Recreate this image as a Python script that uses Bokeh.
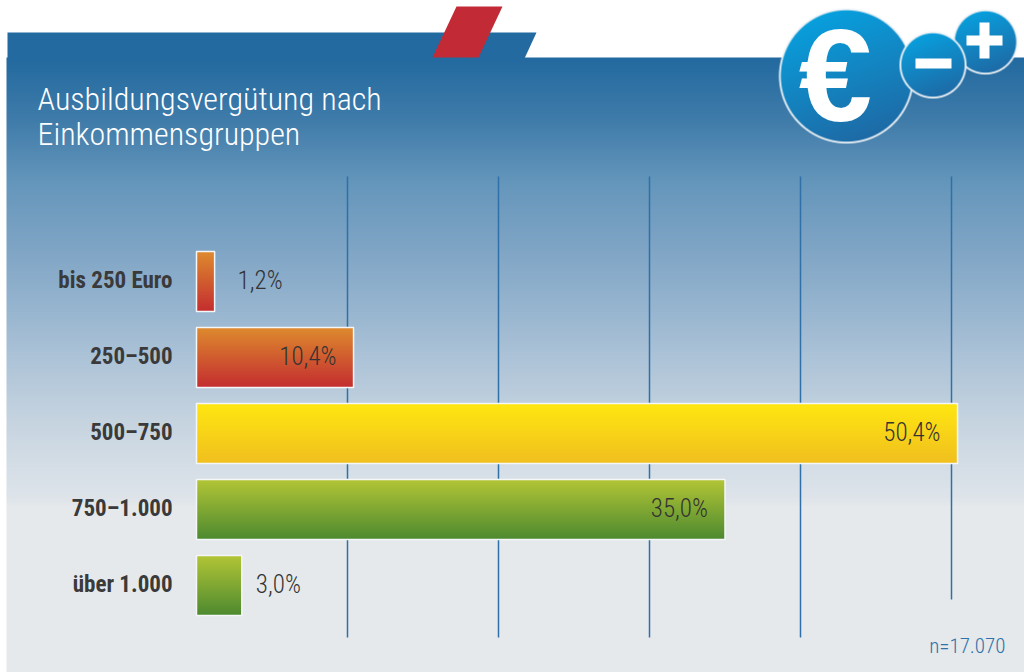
import numpy as np
from bokeh.plotting import figure
from bokeh.models import Range1d, ColumnDataSource
from bokeh.core.properties import value
from bokeh.embed import file_html
from bokeh.resources import INLINE

categories = ["bis 250 Euro", "250–500", "500–750", "750–1.000", "über 1.000"]
shares = [1.2, 10.4, 50.4, 35.0, 3.0]
share_labels = ["1,2%", "10,4%", "50,4%", "35,0%", "3,0%"]
grid_values = [10, 20, 30, 40, 50]
grid_ends = [637, 637, 637, 637, 599]
title_lines = ["Ausbildungsvergütung nach", "Einkommensgruppen"]
note = "n=17.070"

bar_top = [(222, 138, 46), (222, 138, 46), (255, 231, 17), (178, 198, 54), (178, 198, 54)]
bar_bottom = [(196, 46, 48), (196, 46, 48), (241, 192, 31), (78, 138, 48), (78, 138, 48)]
label_align = ["left", "right", "right", "right", "left"]
label_offset = [23, -17, -17, -17, 14]

W, H = 1024, 672
PX0, PY0 = 0, 0
PX_PER_PCT = 15.1
X0_PAGE = 196
ROW = 76
ROW0_PAGE = 281
FONT = "Roboto Condensed"
FONT_LIGHT = "Roboto Condensed Light"

x_start = (PX0 - X0_PAGE) / PX_PER_PCT
x_end = (PX0 + W - X0_PAGE) / PX_PER_PCT
y_top = (PY0 - ROW0_PAGE) / ROW
y_bot = (PY0 + H - ROW0_PAGE) / ROW

p = figure(width=W, height=H, output_backend="svg", toolbar_location=None,
           x_range=Range1d(x_start, x_end), y_range=Range1d(y_bot, y_top),
           min_border=0, outline_line_color=None, background_fill_color="white",
           border_fill_color="white")
p.axis.visible = False
p.grid.visible = False
p.extra_x_ranges["px"] = Range1d(PX0, PX0 + W)
p.extra_y_ranges["px"] = Range1d(PY0 + H, PY0)
PX = dict(x_range_name="px", y_range_name="px")


def rgba(rgb, a):
    return (a.astype(np.uint32) << 24) | (rgb[..., 2].astype(np.uint32) << 16) | \
           (rgb[..., 1].astype(np.uint32) << 8) | rgb[..., 0].astype(np.uint32)


def vgrad(top, bottom, n):
    t = np.linspace(0, 1, n)[:, None]
    c = np.array(top)[None, :] * (1 - t) + np.array(bottom)[None, :] * t
    c = c[:, None, :]
    return rgba(c, np.full((n, 1), 255))


def put_image(img, left, top, w, h):
    p.image_rgba(image=[img], x=left, y=top, dw=w, dh=h, **PX)


# panel background
ys = np.array([57, 120, 180, 240, 300, 360, 420, 470, 497, 505, 672], float)
cs = np.array([(35, 106, 160), (64, 124, 170), (100, 150, 187), (124, 163, 196),
               (148, 179, 206), (174, 196, 216), (198, 212, 224), (214, 223, 231),
               (222, 228, 234), (229, 233, 236), (229, 233, 236)], float)
yy = np.arange(57, 672)
bg = np.stack([np.interp(yy, ys, cs[:, i]) for i in range(3)], axis=1)[:, None, :]
p.patch([7, 536, 524, 7], [32, 32, 58, 58], color="#236aa0", line_color=None, **PX)
put_image(rgba(bg, np.full((len(yy), 1), 255)), 6, 57, 1018, 615)

# red tab
p.patch([456, 502, 478, 432], [6, 6, 57, 57], color="#c22b35", line_color=None, **PX)

# grid lines
src_grid = ColumnDataSource(dict(x=grid_values, y0=[(176 - ROW0_PAGE) / ROW] * 5,
                                 y1=[(e - ROW0_PAGE) / ROW for e in grid_ends]))
p.segment("x", "y0", "x", "y1", source=src_grid, line_color="#2f70a8", line_width=1.5)

# bars
idx = list(range(len(categories)))
BAR_H = 60 / ROW
p.hbar(y=idx, left=0, right=shares, height=BAR_H, fill_color="#d97b2e", line_color=None)
for i, v in zip(idx, shares):
    img = vgrad(bar_top[i], bar_bottom[i], 60)
    p.image_rgba(image=[img], x=0, y=i - BAR_H / 2, dw=v, dh=BAR_H)
p.hbar(y=idx, left=0, right=shares, height=BAR_H, fill_alpha=0,
       line_color="#f4f6f7", line_width=1.5)

# category labels
p.text(x=[(172 - X0_PAGE) / PX_PER_PCT] * 5, y=idx, y_offset=-1, text=categories, text_align="right",
       text_baseline="middle", text_font=value(FONT), text_font_style="bold",
       text_font_size="23px", text_color="#3a3a3a")

# value labels
src_val = ColumnDataSource(dict(x=shares, y=idx, t=share_labels, a=label_align, o=label_offset))
p.text(x="x", y="y", text="t", x_offset="o", y_offset=-1, text_align="a", source=src_val,
       text_baseline="middle", text_font=value(FONT_LIGHT), text_font_size="25px",
       text_color="#333333")

# title
p.text(x=[37, 37], y=[98, 133], text=title_lines, text_baseline="middle",
       text_font=value(FONT_LIGHT), text_font_size="32px", text_color="white", **PX)

# note
p.text(x=[1005], y=[645], text=[note], text_align="right", text_baseline="middle",
       text_font=value(FONT_LIGHT), text_font_size="21px", text_color="#2f72aa", **PX)


# icon
def circle_img(cx, cy, r):
    x0, y0 = int(cx - r - 2), int(cy - r - 2)
    n = int(2 * r + 5)
    gy, gx = np.mgrid[0:n, 0:n]
    dx, dy = gx + x0 + .5 - cx, gy + y0 + .5 - cy
    d = np.hypot(dx, dy)
    t = np.clip((dx * .35 + dy * .95) / (2 * r) + .5, 0, 1)[..., None]
    c = np.array((8, 160, 222)) * (1 - t) + np.array((30, 106, 165)) * t
    ring = np.clip(d - (r - 2.3), 0, 1)[..., None]
    c = c * (1 - ring) + np.array((238, 242, 245)) * ring
    a = np.clip(r + .5 - d, 0, 1) * 255
    put_image(rgba(c, a), x0, y0, n, n)


circle_img(846, 75.5, 67.5)
p.text(x=[835], y=[75], text=["€"], text_align="center", text_baseline="middle",
       text_font=value("Liberation Sans"), text_font_style="bold", text_font_size="132px",
       text_color="white", **PX)
circle_img(985, 41.5, 32.5)
p.quad(left=[966, 979], right=[1002, 989], top=[35, 22], bottom=[45, 58], color="white",
       line_color=None, **PX)
circle_img(932.5, 64.5, 33.5)
p.quad(left=[915], right=[951], top=[58], bottom=[68], color="white", line_color=None, **PX)

open("out.html", "w").write(file_html(p, INLINE))
